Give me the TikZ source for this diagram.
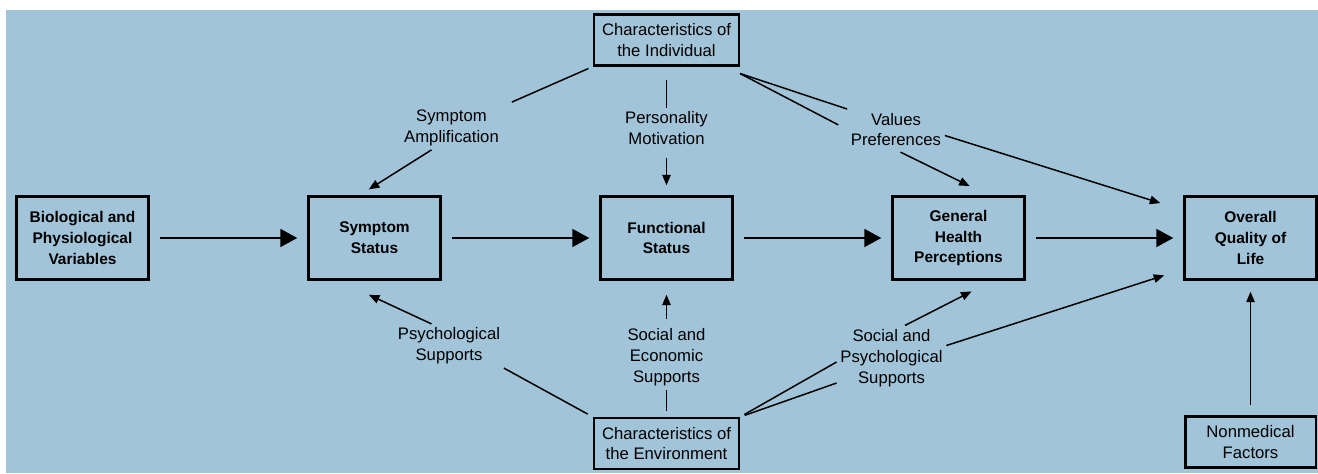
\documentclass[tikz,border=0pt]{standalone}
\usepackage{fontspec}
\setmainfont{Liberation Sans}
\usetikzlibrary{positioning,arrows.meta}
\definecolor{bgblue}{RGB}{162,196,216}

\begin{document}
\begin{tikzpicture}[node distance=5.84cm]
	\tikzset{n/.style={draw=black, line width=1.4pt, minimum width=2.64cm, minimum height=1.66cm, align=center, font=\fontsize{8.8}{11.9}\selectfont\bfseries},
	c/.style={draw=black, line width=1.15pt, minimum width=2.9cm, minimum height=1.02cm, align=center, inner sep=1pt, font=\fontsize{9.5}{11.9}\selectfont},
	l/.style={align=center, inner sep=2pt, font=\fontsize{9.5}{11.9}\selectfont},
	f/.style={-{Triangle[length=0.21cm, width=0.17cm]}, line width=0.85pt},
	g/.style={line width=0.85pt},
	m/.style={-{Triangle[length=0.34cm, width=0.36cm]}, line width=1.1pt, shorten <=0.2cm, shorten >=0.2cm}};

	\useasboundingbox (-13.33,-4.70) rectangle (13.03,4.76);
	\fill[bgblue] (-13.21,-4.70) rectangle (13.03,4.56);

	\node[n] (fun) at (0,0) {Functional\\Status};
	\node[n, left of=fun] (sym) {Symptom\\Status};
	\node[n, left of=sym] (bio) {Biological and\\Physiological\\Variables};
	\node[n, right of=fun] (ghp) {General\\Health\\Perceptions};
	\node[n, right of=ghp] (qol) {Overall\\Quality of\\Life};
	\node[c, node distance=3.96cm, above of=fun] (ci) {Characteristics of\\the Individual};
	\node[c, node distance=4.11cm, below of=fun] (ce) {Characteristics of\\the Environment};
	\node[c, minimum width=2.6cm, node distance=4.08cm, below of=qol] (nmf) {Nonmedical\\Factors};

	\node[l] (amp) at (-4.30,2.20) {Symptom\\Amplification};
	\node[l] (pers) at (0,2.20) {Personality\\Motivation};
	\node[l] (val) at (4.59,2.17) {Values\\Preferences};
	\node[l] (psy) at (-4.35,-2.16) {Psychological\\Supports};
	\node[l] (soc) at (0,-2.39) {Social and\\Economic\\Supports};
	\node[l] (socpsy) at (4.50,-2.40) {Social and\\Psychological\\Supports};

	\draw[m] (bio) -- (sym);
	\draw[m] (sym) -- (fun);
	\draw[m] (fun) -- (ghp);
	\draw[m] (ghp) -- (qol);

	\draw[g, shorten <=0.1cm, shorten >=0.2cm] (ci.south west) -- (amp.north east);
	\draw[f, shorten >=0.22cm] ([xshift=-0.4cm]amp.south) -- ([xshift=-0.3cm]sym.north);
	\draw[g, shorten <=0.26cm] (ci) -- (pers);
	\draw[f, shorten <=0.2cm, shorten >=0.2cm] (pers) -- (fun);
	\draw[g] ([yshift=-0.14cm]ci.south east) -- (val.north west);
	\draw[g, shorten >=0.2cm] ([yshift=-0.14cm]ci.south east) -- (val.west);
	\draw[f, shorten <=0.1cm, shorten >=0.42cm] (val.south) -- ([xshift=0.6cm]ghp.north);
	\draw[f, shorten >=0.48cm] ([yshift=-0.12cm]val.east) -- ([yshift=-0.3cm]qol.north west);

	\draw[f, shorten >=0.67cm] ([xshift=-0.35cm]psy.north) -- ([xshift=-0.72cm]sym.south);
	\draw[g, shorten >=0.12cm] (psy.south east) -- (ce.north west);
	\draw[f, shorten <=0.12cm, shorten >=0.28cm] (soc) -- (fun);
	\draw[g, shorten <=0.12cm] (ce) -- (soc);
	\draw[f, shorten >=0.47cm] ([xshift=0.27cm]socpsy.north) -- ([xshift=0.68cm]ghp.south);
	\draw[f, shorten >=0.4cm] ([yshift=0.25cm]socpsy.east) -- ([yshift=0.23cm]qol.south west);
	\draw[g, shorten <=0.1cm] (ce.north east) -- ([yshift=-0.08cm]socpsy.west);
	\draw[g, shorten <=0.1cm] (ce.north east) -- ([yshift=-0.5cm]socpsy.west);
	\draw[f, shorten <=0.2cm, shorten >=0.22cm] (nmf) -- (qol);
\end{tikzpicture}
\end{document}
